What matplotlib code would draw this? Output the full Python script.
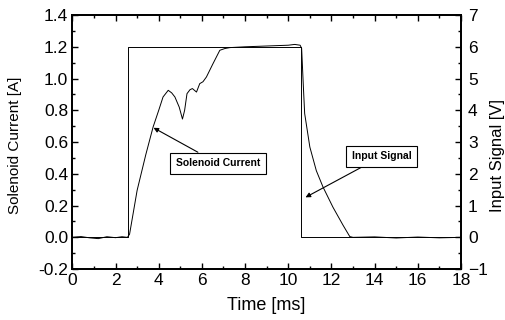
import matplotlib
matplotlib.use("Agg")
import matplotlib.pyplot as plt
from matplotlib.ticker import MultipleLocator, FormatStrFormatter

plt.rcParams['font.family'] = ['Liberation Sans', 'DejaVu Sans']

# Solenoid current [A] vs time [ms]
t_current = [0, 0.4, 0.8, 1.2, 1.6, 2.0, 2.3, 2.55, 2.65, 3.0, 3.4, 3.74, 4.0, 4.2, 4.44,
             4.6, 4.75, 4.95, 5.1, 5.2, 5.31, 5.45, 5.56, 5.75, 5.9, 6.05, 6.21, 6.5,
             6.83, 7.06, 7.3, 8.0, 9.0, 10.0, 10.3, 10.55, 10.62, 10.7, 10.76, 11.0,
             11.3, 11.61, 12.07, 12.54, 12.85, 13.0, 14.0, 15.0, 16.0, 17.0, 18.0]
current = [0.0, 0.005, -0.003, -0.008, 0.004, -0.002, 0.004, 0.0, 0.02, 0.296, 0.52, 0.695,
           0.80, 0.884, 0.926, 0.91, 0.884, 0.82, 0.745, 0.80, 0.905, 0.93, 0.937, 0.915,
           0.968, 0.98, 1.01, 1.09, 1.178, 1.189, 1.195, 1.20, 1.205, 1.21, 1.215, 1.21,
           1.19, 0.95, 0.78, 0.569, 0.42, 0.317, 0.19, 0.076, 0.005, 0.0, 0.003, -0.004,
           0.002, -0.003, 0.0]

# Input signal [V] vs time [ms]
t_input = [0, 2.57, 2.57, 10.6, 10.6, 18.0]
signal = [0.0, 0.0, 6.0, 6.0, 0.0, 0.0]

fig = plt.figure(figsize=(5.06, 3.2), dpi=100)
ax = fig.add_axes([0.143, 0.159, 0.768, 0.794])
ax.plot(t_current, current, color='black', lw=0.7)
ax.set_xlim(0, 18)
ax.set_ylim(-0.2, 1.4)
ax.xaxis.set_major_locator(MultipleLocator(2))
ax.xaxis.set_minor_locator(MultipleLocator(1))
ax.yaxis.set_major_locator(MultipleLocator(0.2))
ax.yaxis.set_minor_locator(MultipleLocator(0.1))
ax.yaxis.set_major_formatter(FormatStrFormatter('%.1f'))
ax.tick_params(which='both', direction='in', top=True, labelsize=12.5, width=1)
ax.tick_params(axis='x', pad=2.5)
ax.tick_params(axis='y', pad=3)
ax.tick_params(which='major', length=4)
ax.tick_params(which='minor', length=2)
ax.set_xlabel('Time [ms]', fontsize=13)
ax.set_ylabel('Solenoid Current [A]', fontsize=11)

ax2 = ax.twinx()
ax2.plot(t_input, signal, color='black', lw=0.7)
ax2.set_ylim(-1, 7)
ax2.yaxis.set_major_locator(MultipleLocator(1))
ax2.yaxis.set_minor_locator(MultipleLocator(0.5))
ax2.tick_params(which='both', direction='in', labelsize=12.5, width=1, pad=5)
ax2.tick_params(which='major', length=4)
ax2.tick_params(which='minor', length=2)
ax2.set_ylabel('Input Signal [V]', fontsize=12)

# label placement
ax.xaxis.set_label_coords(0.5, -0.142)
ax.xaxis.label.set_va('center')
ax.yaxis.set_label_coords(-0.148, 0.488)
ax.yaxis.label.set_va('center')
ax2.yaxis.set_label_coords(1.093, 0.449)
ax2.yaxis.label.set_va('center')

for a in (ax, ax2):
    for s in a.spines.values():
        s.set_linewidth(1.3)

bbox = dict(boxstyle='square,pad=0.55', fc='white', ec='black', lw=0.8)
ax.annotate('Solenoid Current', xy=(3.76, 0.69), xytext=(6.75, 0.466),
            fontsize=7.5, fontweight='bold', ha='center', va='center', bbox=bbox,
            arrowprops=dict(arrowstyle='-|>', color='black', lw=0.8,
                            mutation_scale=7, shrinkA=0, shrinkB=0))
ax2.annotate('Input Signal', xy=(10.8, 1.26), xytext=(14.33, 2.55),
             fontsize=7.5, fontweight='bold', ha='center', va='center', bbox=bbox,
             arrowprops=dict(arrowstyle='-|>', color='black', lw=0.8,
                             mutation_scale=7, shrinkA=0, shrinkB=0))

fig.savefig('out.png', dpi=100)
